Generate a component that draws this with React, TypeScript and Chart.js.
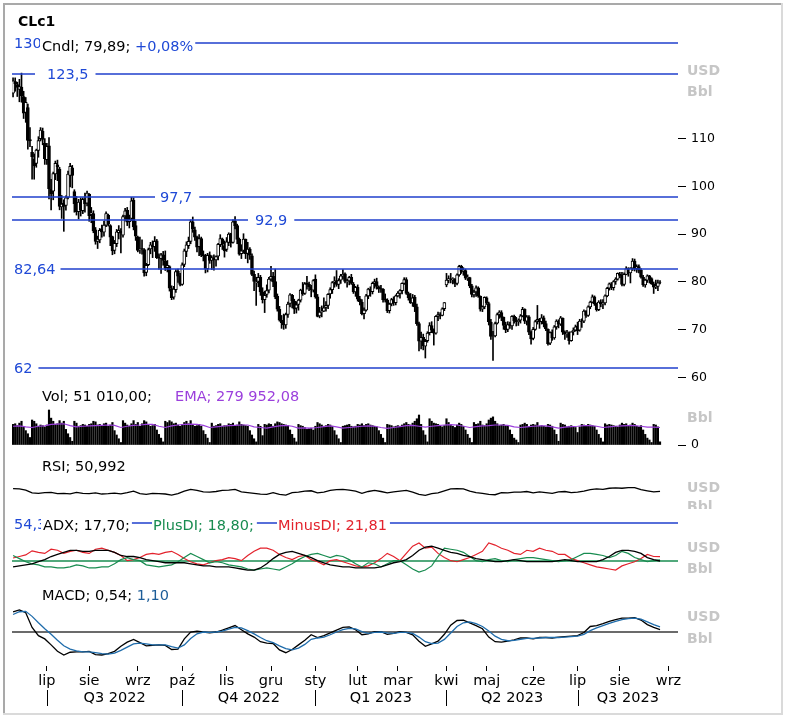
import React, { useEffect, useRef } from 'react';
import { Chart, registerables } from 'chart.js';

Chart.register(...registerables);

// ---------- categories ----------
const instrument = 'CLc1';
const firstDate = '2022-06-08';
const lastDate = '2023-09-08';
const exchangeHolidays = ['2022-06-20', '2022-07-04', '2022-09-05', '2022-11-24', '2022-12-26', '2023-01-02', '2023-01-16', '2023-02-20', '2023-04-07', '2023-05-29', '2023-06-19', '2023-07-04', '2023-09-04'];
const monthNames = ['sty', 'lut', 'mar', 'kwi', 'maj', 'cze', 'lip', 'sie', 'wrz', 'paź', 'lis', 'gru'];

// ---------- daily candles (USD/Bbl) ----------
const opens = [
  119.5, 121.9, 121.3, 120.3, 120.8, 118.8, 115.5, 116.5, 109.8, 107.1, 105.7, 104.8, 107.5, 110.0, 111.5, 109.0,
  105.6, 108.5, 99.4, 99.0, 102.6, 104.5, 103.6, 95.7, 96.5, 96.0, 97.7, 102.3, 103.9, 98.9, 96.5, 94.7, 96.5, 94.9, 97.2, 96.5,
  98.4, 94.2, 94.3, 90.9, 88.5, 88.8, 91.0, 90.4, 91.9, 94.0, 91.8, 89.5, 86.6, 88.0, 90.3, 90.6, 89.8, 93.8, 95.0, 92.6, 93.3, 97.1, 91.8,
  89.4, 86.7, 87.0, 86.8, 82.0, 83.6, 86.9, 87.7, 87.4, 88.6, 85.2, 84.9, 85.7, 84.3, 83.0, 83.2, 78.6, 76.8, 78.4, 82.3, 81.3,
  79.5, 83.7, 86.4, 87.6, 88.5, 92.6, 90.9, 89.4, 87.4, 89.1, 85.7, 85.4, 82.8, 85.7, 84.5, 85.0, 84.6, 85.4, 87.8, 89.0, 87.6,
  86.8, 88.3, 90.1, 88.3, 92.8, 91.8, 88.9, 85.9, 86.6, 88.9, 86.0, 86.9, 85.5, 81.6, 79.8, 80.1, 81.0, 77.9, 76.3, 77.4, 78.3,
  80.6, 81.2, 80.1, 77.0, 74.3, 72.0, 71.5, 71.0, 73.2, 75.5, 77.2, 76.0, 74.5, 75.3, 76.2, 78.3, 77.6, 79.7, 79.5, 78.9, 78.3,
  80.6, 76.9, 72.9, 73.7, 73.9, 74.7, 75.1, 77.5, 78.4, 80.0, 80.3, 79.5, 80.4, 81.3, 81.7, 80.1, 80.2, 81.0, 79.5, 77.9,
  78.9, 76.5, 75.8, 73.4, 74.1, 77.1, 78.5, 78.0, 79.8, 80.1, 79.0, 78.6, 78.5, 76.4, 76.2, 74.0, 75.4, 76.4, 75.7,
  77.1, 77.6, 78.2, 79.7, 80.5, 77.6, 76.7, 75.6, 76.8, 74.8, 71.3, 67.6, 68.4, 66.6, 67.7, 69.4, 70.9, 69.9, 69.3, 72.8, 73.2, 73.0, 74.4,
  79.4, 80.4, 80.6, 80.5, 80.6, 79.7, 81.5, 83.3, 82.2, 82.4, 80.8, 80.9, 79.2, 77.3, 77.9, 78.8, 77.0, 74.3, 74.8,
  76.7, 75.5, 71.6, 68.6, 68.7, 71.4, 73.2, 73.6, 72.6, 70.9, 70.1, 71.1, 70.8, 72.8, 71.9, 71.7, 72.0, 72.9, 74.3, 71.8, 72.7, 69.5,
  68.2, 70.1, 71.8, 72.2, 71.7, 72.5, 71.3, 70.1, 67.2, 69.5, 68.3, 70.6, 71.8, 71.2, 72.4, 69.5, 69.2, 69.4, 67.7, 69.6, 69.9,
  70.8, 69.9, 71.8, 71.8, 73.9, 73.0, 74.8, 75.8, 76.9, 75.4, 74.2, 75.8, 75.4, 75.6, 77.1, 78.7, 79.6, 78.8, 80.1, 80.6,
  81.6, 81.4, 79.5, 81.6, 82.8, 81.9, 82.9, 84.4, 82.8, 83.2, 82.5, 81.0, 79.4, 80.4, 81.3, 80.7, 79.6, 78.9, 79.1, 79.9,
];
const highs = [
  122.7, 122.7, 121.8, 122.4, 123.7, 119.9, 118.6, 117.2, 112.3, 108.4, 106.8, 107.8, 110.4, 112.3, 112.2, 110.0,
  109.0, 110.2, 101.5, 103.0, 105.3, 105.5, 104.0, 98.1, 97.2, 98.0, 103.2, 104.8, 104.4, 99.3, 97.9, 97.3, 97.6, 97.6, 98.6, 99.0,
  98.5, 95.6, 94.9, 91.4, 89.6, 91.2, 91.9, 92.7, 94.7, 94.2, 92.0, 89.6, 88.7, 91.0, 91.8, 91.2, 94.0, 95.4, 95.6, 94.0, 97.7, 97.6, 92.7,
  89.6, 89.4, 88.8, 87.0, 83.9, 87.1, 88.3, 88.6, 89.5, 88.9, 85.9, 86.0, 86.4, 86.5, 84.5, 83.4, 79.2, 79.1, 82.6, 82.7, 81.8,
  84.0, 86.9, 88.4, 89.4, 93.0, 93.6, 91.5, 89.6, 89.9, 89.4, 86.5, 85.8, 86.0, 86.3, 85.5, 85.7, 85.5, 88.1, 89.9, 89.2, 88.6,
  89.3, 90.3, 90.2, 93.0, 93.7, 92.1, 89.2, 87.8, 90.1, 89.0, 88.3, 87.2, 85.9, 82.3, 81.0, 81.8, 81.4, 78.8, 78.1, 79.4, 81.0,
  83.3, 82.0, 82.7, 77.5, 74.9, 73.0, 73.3, 73.5, 75.8, 77.6, 77.4, 76.4, 75.9, 76.4, 78.5, 79.9, 79.9, 81.2, 80.0, 79.3, 80.5,
  81.5, 77.4, 74.7, 75.0, 76.7, 75.9, 77.6, 78.8, 80.1, 81.1, 82.4, 80.7, 81.6, 82.6, 81.9, 80.6, 81.2, 81.6, 79.9, 79.1,
  79.4, 77.0, 76.3, 74.6, 77.4, 78.7, 79.0, 80.0, 80.6, 80.8, 79.2, 79.3, 78.6, 77.5, 76.5, 75.6, 76.6, 76.9, 77.3,
  78.0, 78.4, 79.8, 80.9, 80.9, 77.9, 77.6, 77.4, 77.2, 75.4, 71.6, 69.5, 69.1, 68.0, 69.6, 71.5, 71.7, 70.2, 73.0, 73.7, 73.6, 74.6, 75.7,
  81.8, 81.3, 81.8, 80.9, 80.7, 81.7, 83.5, 83.5, 83.0, 82.7, 81.5, 81.0, 79.5, 78.3, 79.2, 79.0, 77.1, 75.0, 76.9,
  76.9, 75.8, 72.2, 69.7, 71.6, 73.5, 74.0, 74.0, 72.7, 71.6, 71.7, 71.6, 73.0, 73.1, 72.6, 72.3, 73.2, 74.7, 74.4, 73.0, 73.0, 69.8,
  70.5, 72.0, 75.1, 72.4, 73.2, 72.9, 71.8, 70.2, 69.6, 70.0, 70.9, 72.1, 72.1, 72.8, 72.5, 69.8, 69.9, 69.6, 69.6, 70.4, 71.0,
  71.6, 72.2, 72.3, 74.2, 74.0, 75.0, 76.0, 77.3, 77.1, 75.6, 76.1, 76.3, 76.3, 77.3, 78.9, 79.8, 79.9, 80.3, 80.9, 81.9,
  82.0, 82.0, 81.9, 83.2, 83.0, 83.0, 84.9, 84.8, 83.6, 83.6, 82.8, 81.4, 80.6, 81.5, 81.4, 80.9, 80.0, 80.4, 80.4, 80.3,
];
const lows = [
  118.7, 119.9, 118.8, 117.7, 117.6, 114.2, 113.4, 107.8, 108.3, 101.5, 101.5, 104.0, 106.1, 109.5, 108.7, 104.6,
  104.6, 97.4, 95.1, 97.2, 101.4, 101.2, 95.1, 93.3, 90.6, 95.0, 97.4, 99.9, 99.7, 94.6, 94.0, 93.2, 93.8, 94.3, 94.6, 95.9,
  92.7, 92.4, 90.3, 87.9, 87.0, 88.2, 89.4, 89.6, 91.6, 91.7, 87.6, 85.7, 85.9, 87.4, 89.0, 86.1, 89.4, 92.8, 91.8, 91.3, 92.8, 90.9, 88.7,
  86.3, 86.0, 85.8, 81.2, 81.3, 83.4, 85.9, 85.1, 86.4, 84.9, 82.7, 81.8, 83.5, 82.4, 82.1, 78.1, 76.3, 76.4, 77.8, 79.9, 79.2,
  79.3, 83.2, 85.3, 87.0, 88.0, 90.4, 88.7, 86.3, 85.5, 85.3, 84.4, 81.9, 82.1, 83.9, 82.6, 82.5, 83.3, 84.6, 87.4, 86.8, 85.2,
  86.4, 87.6, 87.3, 88.1, 91.1, 88.0, 85.6, 84.9, 86.0, 84.9, 84.0, 84.7, 81.3, 78.2, 75.1, 79.0, 77.2, 75.6, 73.6, 76.8, 77.7,
  80.2, 79.0, 76.5, 73.9, 71.8, 70.3, 70.1, 70.3, 72.6, 74.8, 74.6, 73.4, 73.5, 74.1, 75.8, 77.2, 77.4, 78.5, 78.2, 76.9, 77.9,
  76.6, 72.7, 72.5, 72.7, 73.8, 73.9, 74.4, 76.6, 77.6, 78.9, 79.1, 78.6, 79.7, 80.6, 79.8, 78.9, 79.4, 79.5, 77.6, 77.0,
  76.0, 75.2, 73.1, 72.3, 73.9, 76.5, 77.0, 77.5, 78.7, 78.5, 77.8, 77.8, 75.8, 75.8, 73.6, 73.5, 75.0, 75.1, 75.2,
  76.9, 76.6, 77.5, 79.5, 77.4, 76.2, 75.5, 74.9, 73.8, 70.9, 65.6, 66.0, 65.8, 64.1, 67.4, 68.9, 69.4, 66.8, 69.1, 71.9, 72.3, 72.9, 74.0,
  79.0, 79.8, 79.8, 79.6, 79.0, 79.4, 81.2, 81.8, 81.4, 80.5, 80.3, 78.8, 76.9, 76.8, 77.0, 76.8, 73.9, 73.8, 74.4,
  75.3, 71.0, 68.0, 63.6, 68.5, 71.2, 72.4, 71.9, 70.1, 69.4, 69.6, 70.3, 70.1, 71.4, 70.8, 70.9, 71.4, 72.7, 71.3, 71.0, 69.0, 67.0,
  67.9, 69.9, 71.2, 70.3, 71.2, 70.6, 69.8, 66.8, 66.9, 67.8, 68.0, 70.1, 70.4, 70.9, 69.0, 68.0, 68.4, 67.0, 67.6, 68.9, 69.7,
  69.0, 69.7, 70.5, 71.5, 72.6, 72.8, 74.4, 75.6, 75.1, 73.9, 74.0, 74.8, 74.4, 75.2, 76.9, 78.3, 78.4, 78.3, 79.5, 80.4,
  80.9, 79.2, 79.2, 81.5, 81.2, 79.8, 82.4, 82.3, 82.0, 81.9, 80.8, 79.1, 78.9, 79.9, 79.8, 79.5, 77.6, 78.6, 78.2, 79.6,
];
const closes = [
  122.1, 121.5, 120.7, 120.9, 118.9, 115.3, 117.6, 109.6, 109.5, 106.2, 104.3, 107.6, 109.6, 111.8, 109.8, 105.8,
  108.4, 99.5, 98.5, 102.7, 104.8, 104.1, 95.8, 96.3, 95.8, 97.6, 102.6, 104.2, 102.3, 96.4, 94.7, 96.7, 95.0, 97.3, 96.4, 98.6,
  93.9, 94.4, 90.7, 88.5, 89.0, 90.8, 90.5, 91.9, 94.3, 92.1, 89.4, 86.5, 88.1, 90.5, 90.8, 90.2, 93.7, 94.9, 92.5, 93.1, 97.0, 91.6, 89.6,
  86.6, 86.9, 86.9, 81.9, 83.5, 86.8, 87.8, 87.3, 88.5, 85.1, 85.1, 85.7, 84.5, 82.9, 83.5, 78.7, 76.7, 78.5, 82.2, 81.2, 79.5,
  83.6, 86.5, 87.8, 88.5, 92.6, 91.1, 89.4, 87.3, 89.1, 85.6, 85.5, 82.8, 85.6, 84.5, 85.1, 84.6, 85.3, 87.9, 89.1, 87.9, 86.5,
  88.4, 90.0, 88.2, 92.6, 91.8, 88.9, 85.8, 86.5, 89.0, 85.9, 86.9, 85.6, 81.6, 80.1, 80.0, 81.0, 77.9, 76.3, 77.2, 78.2, 80.6,
  81.2, 80.0, 76.9, 74.3, 72.0, 71.5, 71.0, 73.2, 75.4, 77.3, 76.1, 74.3, 75.2, 76.2, 78.3, 77.5, 79.6, 79.5, 79.0, 78.4, 80.3,
  76.9, 72.8, 73.7, 73.8, 74.6, 75.1, 77.4, 78.4, 79.9, 80.2, 79.5, 80.3, 81.3, 81.6, 80.1, 80.2, 81.0, 79.7, 77.9, 78.9,
  76.4, 75.9, 73.4, 74.1, 77.1, 78.5, 78.1, 79.7, 80.1, 79.1, 78.6, 78.5, 76.3, 76.2, 74.0, 75.4, 76.3, 75.7, 77.1,
  77.7, 78.2, 79.7, 80.5, 77.6, 76.7, 75.7, 76.7, 74.8, 71.3, 67.6, 68.4, 66.7, 67.6, 69.3, 70.9, 70.0, 69.3, 72.8, 73.2, 73.0, 74.4, 75.7,
  80.4, 80.7, 80.6, 80.7, 79.7, 81.5, 83.3, 82.2, 82.5, 80.8, 80.9, 79.2, 77.4, 77.9, 78.8, 77.1, 74.3, 74.8, 76.8,
  75.7, 71.7, 68.6, 68.6, 71.3, 73.2, 73.7, 72.6, 70.9, 70.0, 71.1, 70.9, 72.8, 71.9, 71.7, 72.0, 72.9, 74.3, 71.8, 72.7, 69.5, 68.1,
  70.1, 71.7, 72.2, 71.7, 72.5, 71.3, 70.2, 67.1, 69.4, 68.3, 70.6, 71.8, 71.2, 72.5, 69.5, 69.2, 69.4, 67.7, 69.6, 69.9, 70.6,
  69.8, 71.8, 71.8, 73.9, 73.0, 74.8, 75.8, 76.9, 75.4, 74.2, 75.8, 75.4, 75.6, 77.1, 78.7, 79.6, 78.8, 80.1, 80.6, 81.8,
  81.4, 79.5, 81.6, 82.8, 81.9, 82.9, 84.4, 82.8, 83.2, 82.5, 81.0, 79.4, 80.4, 81.3, 80.7, 79.6, 78.9, 79.1, 79.8, 79.89,
];

// ---------- daily volume (thousand Bbl contracts) ----------
const volumes = [
  330, 340, 310, 350, 380, 290, 230, 180, 120, 400, 380, 340, 300, 320, 310, 290,
  320, 560, 430, 380, 330, 340, 390, 350, 380, 250, 180, 120, 60, 380, 350, 300, 310, 330, 320, 300,
  330, 340, 380, 370, 320, 330, 300, 340, 350, 300, 320, 360, 230, 160, 100, 40, 390, 350, 320, 300, 340, 390, 330,
  360, 300, 340, 390, 370, 330, 300, 310, 330, 240, 170, 110, 50, 380, 360, 390, 370, 340, 350, 320, 300,
  330, 360, 380, 340, 390, 320, 300, 310, 330, 300, 230, 170, 110, 40, 350, 300, 310, 330, 340, 300, 310,
  310, 340, 330, 350, 300, 320, 370, 330, 320, 310, 300, 230, 160, 100, 50, 330, 300, 150, 330, 320, 340,
  330, 300, 340, 370, 360, 340, 330, 320, 310, 240, 170, 110, 50, 330, 310, 300, 280, 250, 260, 270, 240,
  300, 360, 340, 320, 300, 310, 330, 320, 300, 230, 160, 100, 40, 300, 310, 320, 330, 300, 290, 300,
  330, 320, 340, 310, 330, 340, 320, 310, 300, 290, 230, 170, 110, 40, 330, 320, 310, 290, 300,
  310, 300, 320, 340, 360, 330, 320, 350, 380, 420, 480, 330, 230, 160, 50, 420, 380, 350, 340, 330, 300, 290, 310,
  420, 360, 330, 300, 280, 320, 350, 330, 300, 240, 170, 110, 40, 360, 330, 340, 380, 320, 310,
  340, 400, 430, 450, 380, 340, 310, 320, 330, 310, 300, 240, 170, 110, 80, 40, 320, 330, 350, 330, 290, 320,
  330, 320, 360, 300, 310, 300, 290, 330, 320, 300, 240, 170, 60, 350, 330, 320, 290, 300, 310, 290, 280,
  200, 290, 330, 320, 310, 330, 320, 310, 300, 240, 170, 110, 50, 340, 320, 330, 320, 310, 300, 290,
  320, 350, 330, 340, 310, 320, 350, 330, 300, 290, 310, 240, 170, 110, 80, 40, 330, 320, 290, 51.01,
];

// ---------- indicators, read every 3rd trading day ----------
const indicatorStep = 3;
const volEma = [
  300, 305, 290, 280, 300, 305, 330, 335, 340, 310, 290, 300, 305, 310, 315, 320, 315, 280, 300, 315,
  320, 330, 330, 300, 280, 305, 320, 330, 335, 330, 315, 280, 290, 300, 310, 315, 320, 320, 290, 280,
  270, 290, 305, 315, 300, 270, 275, 270, 280, 295, 305, 290, 270, 280, 290, 300, 305, 300, 280, 265,
  280, 295, 310, 315, 300, 285, 300, 310, 320, 325, 320, 300, 280, 295, 305, 310, 320, 320, 315, 290,
  280, 290, 300, 305, 305, 290, 270, 285, 295, 300, 310, 310, 300, 280, 290, 300, 305, 310, 310, 300,
  285, 285, 280,
];
const rsi = [
  66, 64, 58, 42, 40, 44, 45, 38, 40, 37, 45, 40, 38, 42, 36, 38, 41, 37, 44, 52,
  38, 34, 40, 38, 36, 30, 38, 52, 62, 56, 48, 46, 50, 56, 58, 62, 48, 44, 40, 35,
  34, 44, 34, 30, 44, 46, 52, 54, 42, 46, 56, 60, 62, 58, 52, 40, 50, 56, 50, 42,
  48, 52, 56, 46, 34, 28, 38, 42, 54, 64, 66, 64, 52, 44, 40, 34, 32, 44, 42, 46,
  46, 50, 42, 48, 44, 40, 48, 50, 44, 46, 52, 60, 64, 62, 68, 70, 68, 72, 72, 60,
  54, 48, 51,
];
const adx = [
  12, 13, 14, 15, 17, 19, 22, 24, 26, 28, 28, 27, 27, 28, 28, 28, 26, 23, 22, 22,
  21, 19, 18, 17, 16, 16, 16, 16, 15, 14, 13, 13, 12, 12, 12, 11, 10, 9, 9, 11,
  15, 20, 24, 26, 27, 25, 23, 21, 18, 16, 14, 13, 12, 12, 11, 11, 11, 11, 12, 14,
  16, 17, 19, 23, 28, 31, 32, 30, 28, 26, 25, 23, 22, 20, 19, 18, 17, 17, 18, 19,
  18, 17, 17, 17, 17, 17, 18, 19, 18, 17, 17, 17, 17, 19, 22, 26, 28, 28, 27, 25,
  21, 19, 17.7,
];
const plusDI = [
  23, 20, 17, 15, 14, 12, 12, 11, 11, 12, 14, 13, 11, 11, 12, 12, 15, 19, 21, 19,
  18, 14, 13, 12, 13, 14, 17, 21, 25, 22, 19, 16, 17, 16, 14, 13, 12, 10, 9, 10,
  11, 10, 9, 12, 15, 19, 22, 24, 25, 23, 21, 23, 22, 19, 15, 12, 16, 15, 12, 15,
  18, 18, 14, 10, 7, 9, 13, 22, 30, 29, 28, 26, 22, 18, 17, 19, 20, 18, 17, 19,
  20, 21, 21, 20, 19, 18, 17, 18, 19, 22, 25, 25, 24, 23, 21, 23, 27, 25, 21, 19,
  17, 18, 18.8,
];
const minusDI = [
  20.6, 22, 23.5, 27.5, 26, 25, 29, 28, 25, 27, 28, 26, 25, 29, 30, 28, 26, 23, 18, 19,
  21, 24, 25, 24, 26, 27, 24, 20, 17, 15, 14, 16, 18, 19, 21, 20, 18, 23, 27, 30,
  30, 28, 24, 21, 19, 22, 23, 19, 17, 14, 18, 19, 17, 15, 13, 12, 13, 16, 20, 25,
  22, 18, 25, 32, 35, 30, 31, 25, 21, 18, 17, 19, 21, 24, 27, 35, 33, 30, 28, 25,
  24, 28, 27, 30, 28, 27, 24, 24, 20, 18, 16, 14, 12, 11, 10, 9, 13, 15, 17, 20,
  24, 22, 21.81,
];
const macd = [
  4.4, 4.8, 4.2, 1.0, -0.8, -1.5, -2.8, -4.2, -5.0, -4.4,
  -4.3, -4.3, -4.2, -4.9, -5.0, -4.7, -4.2, -3.1, -2.2, -1.6,
  -2.3, -3.0, -2.9, -2.8, -2.9, -3.8, -3.7, -1.5, 0.0, 0.2,
  0.0, -0.2, 0.0, 0.4, 0.9, 1.4, 0.5, -0.4, -1.1, -2.1,
  -2.4, -2.5, -3.9, -4.5, -3.8, -2.8, -1.8, -0.6, -1.2, -0.8,
  -0.2, 0.4, 1.0, 1.1, 0.5, -0.6, -0.4, 0.1, 0.1, -0.5,
  -0.3, 0.1, -0.1, -0.6, -2.0, -3.1, -2.6, -2.0, -0.5, 1.5,
  2.5, 2.6, 2.0, 1.4, 0.7, -1.1, -2.1, -2.2, -2.0, -1.7,
  -1.3, -1.3, -1.5, -1.2, -1.2, -1.3, -1.1, -1.0, -0.9, -0.8,
  -0.1, 1.2, 1.4, 1.8, 2.3, 2.7, 3.0, 3.0, 3.1, 2.6,
  1.6, 1.0, 0.54,
];
const macdSignal = [
  3.8, 4.4, 4.5, 3.4, 2.0, 0.7, -0.5, -1.8, -3.0, -3.7,
  -4.1, -4.3, -4.3, -4.5, -4.7, -4.8, -4.6, -4.0, -3.3, -2.6,
  -2.4, -2.6, -2.8, -2.8, -2.8, -3.2, -3.5, -2.8, -1.4, -0.4,
  0.0, -0.1, 0.0, 0.2, 0.6, 1.0, 0.9, 0.3, -0.4, -1.2,
  -1.9, -2.3, -3.0, -3.6, -3.9, -3.5, -2.7, -1.6, -1.3, -1.1,
  -0.6, 0.0, 0.5, 0.8, 0.7, 0.1, -0.3, -0.1, 0.0, -0.2,
  -0.3, -0.1, -0.1, -0.3, -1.1, -2.1, -2.5, -2.4, -1.6, -0.2,
  1.2, 2.0, 2.2, 1.8, 1.2, 0.2, -0.9, -1.6, -1.9, -1.8,
  -1.6, -1.4, -1.4, -1.3, -1.2, -1.2, -1.2, -1.1, -1.0, -0.9,
  -0.5, 0.3, 0.9, 1.4, 1.9, 2.3, 2.7, 2.9, 3.0, 2.8,
  2.2, 1.6, 1.1,
];

// ---------- ticks, levels, legend texts ----------
const priceTicks = [60, 70, 80, 90, 100, 110];
const volTicks = [0];
const priceLevels = [130, 123.5, 97.7, 92.9, 82.64, 62];
const priceLevelText = ['130', '123,5', '97,7', '92,9', '82,64', '62'];
const adxLevel = 54.3;
const adxLevelText = '54,3';
const diLevel = 18;
const macdZero = 0;
const priceLegend = ['Cndl; 79,89; ', '+0,08%'];
const volLegend = ['Vol; 51 010,00;', 'EMA; 279 952,08'];
const rsiLegend = 'RSI; 50,992';
const adxLegend = ['ADX; 17,70;', 'PlusDI; 18,80;', 'MinusDI; 21,81'];
const macdLegend = ['MACD; 0,54; ', '1,10'];
const unitTop = 'USD';
const unitBottom = 'Bbl';

// ---------- styles ----------
const F = '"DejaVu Sans", Verdana, sans-serif';
const LF = `14.5px ${F}`;
const LEVEL_LINE = '#1f3fcc';
const LEVEL_TEXT = '#1f49d6';
const PURPLE = '#9b3fdc';
const GREEN = '#188c50';
const RED = '#e3222c';
const SIGNAL = '#1f6cab';
const SIGNAL_TEXT = '#1d5d98';
const UNIT = '#c6c6c6';

function buildDates(): string[] {
  const out: string[] = [];
  const hol = new Set(exchangeHolidays);
  const [sy, sm, sd] = firstDate.split('-').map(Number);
  const [ey, em, ed] = lastDate.split('-').map(Number);
  let t = Date.UTC(sy, sm - 1, sd);
  const end = Date.UTC(ey, em - 1, ed);
  while (t <= end) {
    const d = new Date(t);
    const wd = d.getUTCDay();
    const s = d.toISOString().slice(0, 10);
    if (wd !== 0 && wd !== 6 && !hol.has(s)) out.push(s);
    t += 86400000;
  }
  return out;
}

function drawParts(ctx: any, parts: [string, string][], x: number, y: number, font: string, padL: number, padR: number) {
  ctx.font = font;
  let w = 0;
  for (const [t] of parts) w += ctx.measureText(t).width;
  ctx.fillStyle = '#ffffff';
  ctx.fillRect(x - padL, y - 9, w + padL + padR, 18);
  ctx.textBaseline = 'middle';
  ctx.textAlign = 'left';
  let cx = x;
  for (const [t, c] of parts) {
    ctx.fillStyle = c;
    ctx.fillText(t, cx, y);
    cx += ctx.measureText(t).width;
  }
}

function hline(ctx: any, y: number, x1: number, x2: number, color: string, w: number) {
  ctx.strokeStyle = color;
  ctx.lineWidth = w;
  ctx.beginPath();
  ctx.moveTo(x1, y);
  ctx.lineTo(x2, y);
  ctx.stroke();
}

export default function App() {
  const ref = useRef<HTMLCanvasElement | null>(null);

  useEffect(() => {
    const canvas = ref.current;
    if (!canvas) return;
    const labels = buildDates();
    const monthStarts: number[] = [];
    labels.forEach((s, i) => {
      if (i > 0 && s.slice(5, 7) !== labels[i - 1].slice(5, 7)) monthStarts.push(i);
    });
    const quarterStarts = monthStarts.filter((i) => [1, 4, 7, 10].includes(Number(labels[i].slice(5, 7))));

    const bodies = closes.map((c, i) => [Math.min(opens[i], c), Math.max(opens[i], c)]);
    const wicks = closes.map((_, i) => [lows[i], highs[i]]);
    const bodyColors = closes.map((c, i) => (c >= opens[i] ? '#ffffff' : '#000000'));
    const sparse = (arr: number[]) => arr.map((v, k) => ({ x: labels[k * indicatorStep], y: v }));

    const lineDs = (data: any, yAxisID: string, color: string, width = 1.3) => ({
      type: 'line',
      data,
      yAxisID,
      borderColor: color,
      borderWidth: width,
      pointRadius: 0,
      tension: 0,
      fill: false,
      order: -1,
    });

    const overlay = {
      id: 'overlay',
      beforeDraw(chart: any) {
        const ctx = chart.ctx;
        ctx.save();
        ctx.fillStyle = '#ffffff';
        ctx.fillRect(0, 0, chart.width, chart.height);
        ctx.fillStyle = '#a9a9a9';
        ctx.fillRect(3, 3, 780, 2);
        ctx.fillRect(3, 3, 2, 712);
        ctx.fillStyle = '#dadada';
        ctx.fillRect(781, 3, 2, 712);
        ctx.fillRect(3, 713, 780, 2);
        ctx.restore();
      },
      beforeDatasetsDraw(chart: any) {
        const ctx = chart.ctx;
        const { left, right } = chart.chartArea;
        const { yA, yM } = chart.scales;
        ctx.save();
        hline(ctx, Math.round(yA.getPixelForValue(diLevel)), left, right, GREEN, 1.5);
        hline(ctx, Math.round(yM.getPixelForValue(macdZero)), left, right, '#3a3a3a', 1.5);
        ctx.restore();
      },
      afterDatasetsDraw(chart: any) {
        const ctx = chart.ctx;
        const { left, right } = chart.chartArea;
        const { yP, yA } = chart.scales;
        ctx.save();
        const lx = [14, 47, 160, 255, 14, 14];
        const pl = [2, 12, 5, 7, 2, 2];
        const pr = [2, 7, 7, 7, 5, 6];
        priceLevels.forEach((lv, k) => {
          const y = Math.round(yP.getPixelForValue(lv));
          hline(ctx, y, left, right, LEVEL_LINE, 1.5);
          drawParts(ctx, [[priceLevelText[k], LEVEL_TEXT]], lx[k], y + 1.5, LF, pl[k], pr[k]);
        });
        const ya = Math.round(yA.getPixelForValue(adxLevel));
        hline(ctx, ya, left, right, LEVEL_LINE, 1.5);
        drawParts(ctx, [[adxLevelText, LEVEL_TEXT]], 14, ya + 2.5, LF, 2, 2);
        ctx.restore();
      },
      afterDraw(chart: any) {
        const ctx = chart.ctx;
        const xs = chart.scales.x;
        const { right } = chart.chartArea;
        ctx.save();
        ctx.textBaseline = 'middle';
        ctx.textAlign = 'left';
        ctx.font = `bold 14px ${F}`;
        ctx.fillStyle = '#000';
        ctx.fillText(instrument, 18, 22);

        drawParts(ctx, [[priceLegend[0], '#000'], [priceLegend[1], LEVEL_TEXT]], 42, 47.5, LF, 2, 2);
        drawParts(ctx, [[volLegend[0], '#000']], 42, 397.5, LF, 2, 2);
        drawParts(ctx, [[volLegend[1], PURPLE]], 175, 397.5, LF, 2, 2);
        drawParts(ctx, [[rsiLegend, '#000']], 42, 467.5, LF, 2, 2);
        drawParts(ctx, [[adxLegend[0], '#000']], 43, 526, LF, 2, 2);
        drawParts(ctx, [[adxLegend[1], GREEN]], 153, 526, LF, 1, 3);
        drawParts(ctx, [[adxLegend[2], RED]], 278, 526, LF, 1, 3);
        drawParts(ctx, [[macdLegend[0], '#000'], [macdLegend[1], SIGNAL_TEXT]], 42, 596.5, LF, 2, 2);

        ctx.font = `bold 14px ${F}`;
        ctx.fillStyle = UNIT;
        ctx.fillText(unitTop, 687, 71);
        ctx.fillText(unitBottom, 687, 92);
        ctx.fillText(unitBottom, 687, 418);
        ctx.fillText(unitTop, 687, 488);
        ctx.save();
        ctx.beginPath();
        ctx.rect(680, 452, 100, 57);
        ctx.clip();
        ctx.fillText(unitBottom, 687, 507);
        ctx.restore();
        ctx.fillText(unitTop, 687, 548.5);
        ctx.fillText(unitBottom, 687, 569.5);
        ctx.fillText(unitTop, 687, 617.5);
        ctx.fillText(unitBottom, 687, 639);

        ctx.font = LF;
        ctx.fillStyle = '#000';
        ctx.textAlign = 'center';
        ctx.strokeStyle = '#000';
        ctx.lineWidth = 1;
        quarterStarts.forEach((qi, k) => {
          const x0 = xs.getPixelForValue(qi);
          const x1 = k + 1 < quarterStarts.length ? xs.getPixelForValue(quarterStarts[k + 1]) : right;
          const m = Number(labels[qi].slice(5, 7));
          const q = Math.floor((m - 1) / 3) + 1;
          ctx.fillText(`Q${q} ${labels[qi].slice(0, 4)}`, (x0 + x1) / 2, 698.5);
          const sx = Math.round(x0) + 0.5;
          ctx.beginPath();
          ctx.moveTo(sx, 690);
          ctx.lineTo(sx, 706);
          ctx.stroke();
        });
        ctx.restore();
      },
    };

    const hiddenAxis = (weight: number, min: number, max: number) => ({
      type: 'linear',
      axis: 'y',
      position: 'right',
      stack: 'panes',
      stackWeight: weight,
      min,
      max,
      ticks: { display: false },
      grid: { display: false },
      border: { display: false },
      afterBuildTicks: (s: any) => { s.ticks = []; },
      afterFit: (s: any) => { s.width = 60; },
    });

    const chart = new Chart(canvas, {
      type: 'bar',
      data: {
        labels,
        datasets: [
          { type: 'bar', data: bodies, yAxisID: 'yP', backgroundColor: bodyColors, borderColor: '#000', borderWidth: 1, borderSkipped: false, barThickness: 3, grouped: false, order: 0 },
          { type: 'bar', data: wicks, yAxisID: 'yP', backgroundColor: '#000', borderWidth: 0, barThickness: 1, grouped: false, order: 1 },
          { type: 'bar', data: volumes, yAxisID: 'yV', backgroundColor: '#000', borderWidth: 0, barThickness: 1.5, grouped: false, order: 2 },
          lineDs(sparse(volEma), 'yV', PURPLE, 1.2),
          lineDs(sparse(rsi), 'yR', '#000'),
          lineDs(sparse(adx), 'yA', '#000'),
          lineDs(sparse(plusDI), 'yA', GREEN, 1.2),
          lineDs(sparse(minusDI), 'yA', RED, 1.2),
          lineDs(sparse(macdSignal), 'yM', SIGNAL),
          lineDs(sparse(macd), 'yM', '#000'),
        ] as any,
      },
      options: {
        responsive: false,
        animation: false,
        events: [],
        devicePixelRatio: 1,
        layout: { padding: { left: 12, top: 35, right: 50, bottom: 5 } },
        plugins: { legend: { display: false }, tooltip: { enabled: false }, title: { display: false } },
        scales: {
          x: {
            type: 'category',
            offset: true,
            grid: { display: true, drawOnChartArea: false, drawTicks: true, tickLength: 5, color: '#000', offset: false },
            border: { display: false },
            ticks: {
              autoSkip: false,
              maxRotation: 0,
              minRotation: 0,
              padding: 2,
              color: '#000',
              font: { family: F, size: 14.5 },
              callback: (v: any) => monthNames[Number(labels[v].slice(5, 7)) - 1],
            },
            afterBuildTicks: (s: any) => { s.ticks = monthStarts.map((i) => ({ value: i })); },
            afterFit: (s: any) => { s.height = 46; },
          },
          yP: {
            type: 'linear',
            axis: 'y',
            position: 'right',
            stack: 'panes',
            stackWeight: 347,
            min: 59.08,
            max: 131.67,
            ticks: { color: '#000', font: { family: F, size: 12.5 }, padding: 5 },
            grid: { display: true, drawOnChartArea: false, drawTicks: true, tickLength: 8, color: '#000' },
            border: { display: false },
            afterBuildTicks: (s: any) => { s.ticks = priceTicks.map((v) => ({ value: v })); },
            afterFit: (s: any) => { s.width = 60; },
          },
          yV: {
            type: 'linear',
            axis: 'y',
            position: 'right',
            stack: 'panes',
            stackWeight: 70,
            min: -112,
            max: 1008,
            ticks: { color: '#000', font: { family: F, size: 12.5 }, padding: 5 },
            grid: { display: true, drawOnChartArea: false, drawTicks: true, tickLength: 8, color: '#000' },
            border: { display: false },
            afterBuildTicks: (s: any) => { s.ticks = volTicks.map((v) => ({ value: v })); },
            afterFit: (s: any) => { s.width = 60; },
          },
          yR: hiddenAxis(60, -63.9, 269.4),
          yA: hiddenAxis(70, -2.5, 64.8),
          yM: hiddenAxis(84, -7.39, 10.87),
        } as any,
      },
      plugins: [overlay],
    } as any);

    return () => chart.destroy();
  }, []);

  return (
    <div style={{ position: 'absolute', left: 0, top: 0, width: 788, height: 717, background: '#fff' }}>
      <canvas ref={ref} width={788} height={717} style={{ display: 'block' }} />
    </div>
  );
}
